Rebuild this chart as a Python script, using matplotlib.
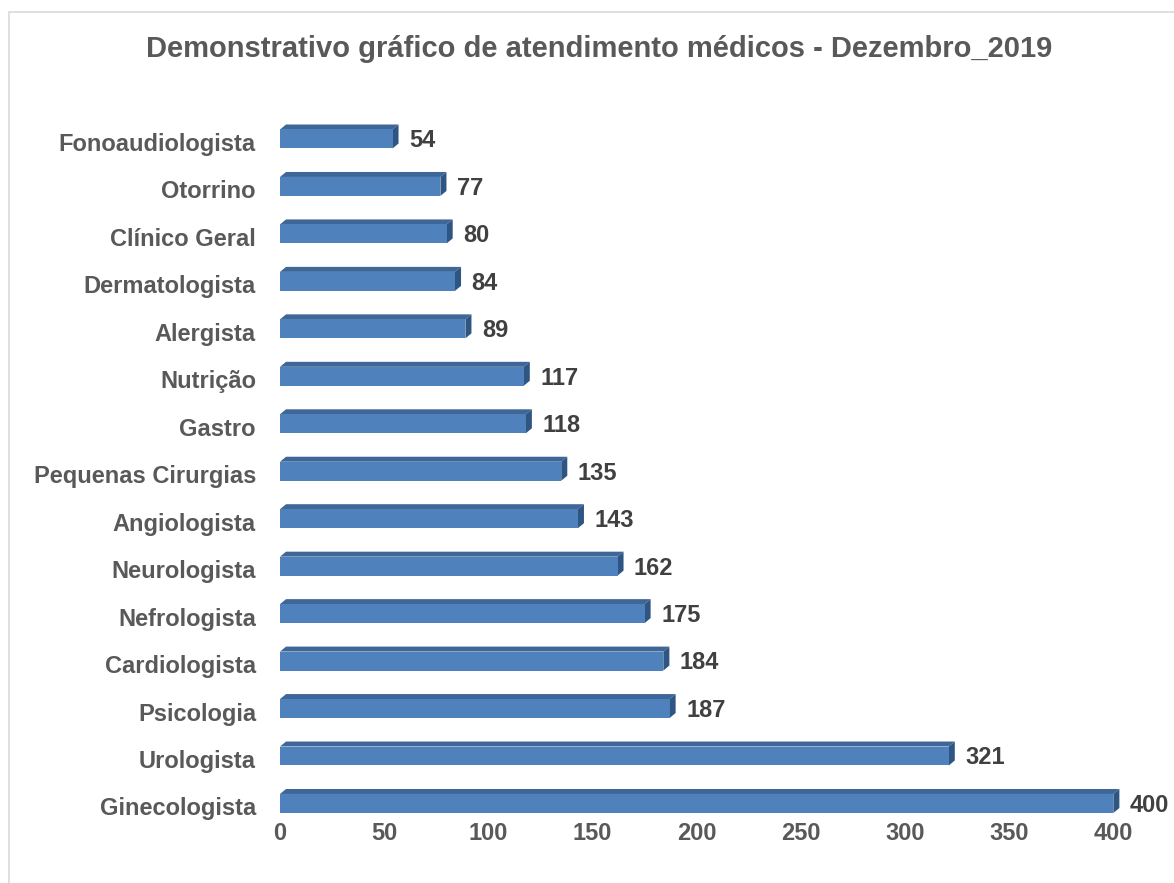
import matplotlib
matplotlib.use("Agg")
import matplotlib.pyplot as plt
from matplotlib.patches import Polygon, Rectangle
from matplotlib.transforms import ScaledTranslation

plt.rcParams['font.family'] = ['Liberation Sans', 'DejaVu Sans']

# dados (de baixo para cima)
especialidades = ['Ginecologista', 'Urologista', 'Psicologia', 'Cardiologista',
                  'Nefrologista', 'Neurologista', 'Angiologista', 'Pequenas Cirurgias',
                  'Gastro', 'Nutrição', 'Alergista', 'Dermatologista',
                  'Clínico Geral', 'Otorrino', 'Fonoaudiologista']
atendimentos = [400, 321, 187, 184, 175, 162, 143, 135, 118, 117, 89, 84, 80, 77, 54]
xticks = [0, 50, 100, 150, 200, 250, 300, 350, 400]
titulo = 'Demonstrativo gráfico de atendimento médicos - Dezembro_2019'

cor_frente = '#4F81BD'
cor_topo = '#3E6697'
cor_lado = '#2F5583'
cinza = '#595959'
escuro = '#404040'

W, H = 1174, 883
fig = plt.figure(figsize=(W / 100, H / 100), dpi=100)

# moldura do grafico (cortada na direita/baixo como na imagem)
fig.patches.append(Rectangle((9 / W, -0.1), 1.2, 1 - 12 / H + 0.1, transform=fig.transFigure,
                             fill=False, edgecolor='#D9D9D9', lw=1.2))

ax = fig.add_axes([280 / W, (H - 817.7) / H, 875 / W, 707.2 / H])
ax.set_xlim(0, 420)
ax.set_ylim(-0.3, 14.6)

ys = list(range(len(especialidades)))
alt = 0.4
dx, dy = 2.9, 0.105  # profundidade 3D em unidades de dados

ax.barh(ys, atendimentos, height=alt, color=cor_frente, zorder=3)
for y, v in zip(ys, atendimentos):
    b, t = y - alt / 2, y + alt / 2
    topo = Polygon([(0, t), (v, t), (v + dx, t + dy), (dx, t + dy)],
                   closed=True, facecolor=cor_topo, edgecolor='none', zorder=2)
    lado = Polygon([(v, b), (v + dx, b + dy), (v + dx, t + dy), (v, t)],
                   closed=True, facecolor=cor_lado, edgecolor='none', zorder=2)
    ax.add_patch(topo)
    ax.add_patch(lado)
    ax.text(v + dx + 5, y - 0.04, str(v), ha='left', va='center',
            fontsize=17, fontweight='bold', color=escuro)

# rotulos das categorias (um pouco abaixo do centro da barra, como no Excel)
ax.set_yticks(ys)
ax.set_yticklabels([])
rot = ax.get_yaxis_transform() + ScaledTranslation(-24 / 100, -3 / 100, fig.dpi_scale_trans)
for y, nome in zip(ys, especialidades):
    ax.text(0, y, nome, transform=rot, ha='right', va='center_baseline',
            fontsize=17, fontweight='bold', color=cinza)

ax.set_xticks(xticks)
ax.set_xticklabels([str(t) for t in xticks], fontsize=17, fontweight='bold', color=cinza)
ax.tick_params(axis='y', length=0)
ax.tick_params(axis='x', length=0, pad=3)
for s in ax.spines.values():
    s.set_visible(False)

fig.text(599 / W, 1 - 49 / H, titulo, ha='center', va='center',
         fontsize=21, fontweight='bold', color=cinza)

fig.savefig('out.png', dpi=100)
